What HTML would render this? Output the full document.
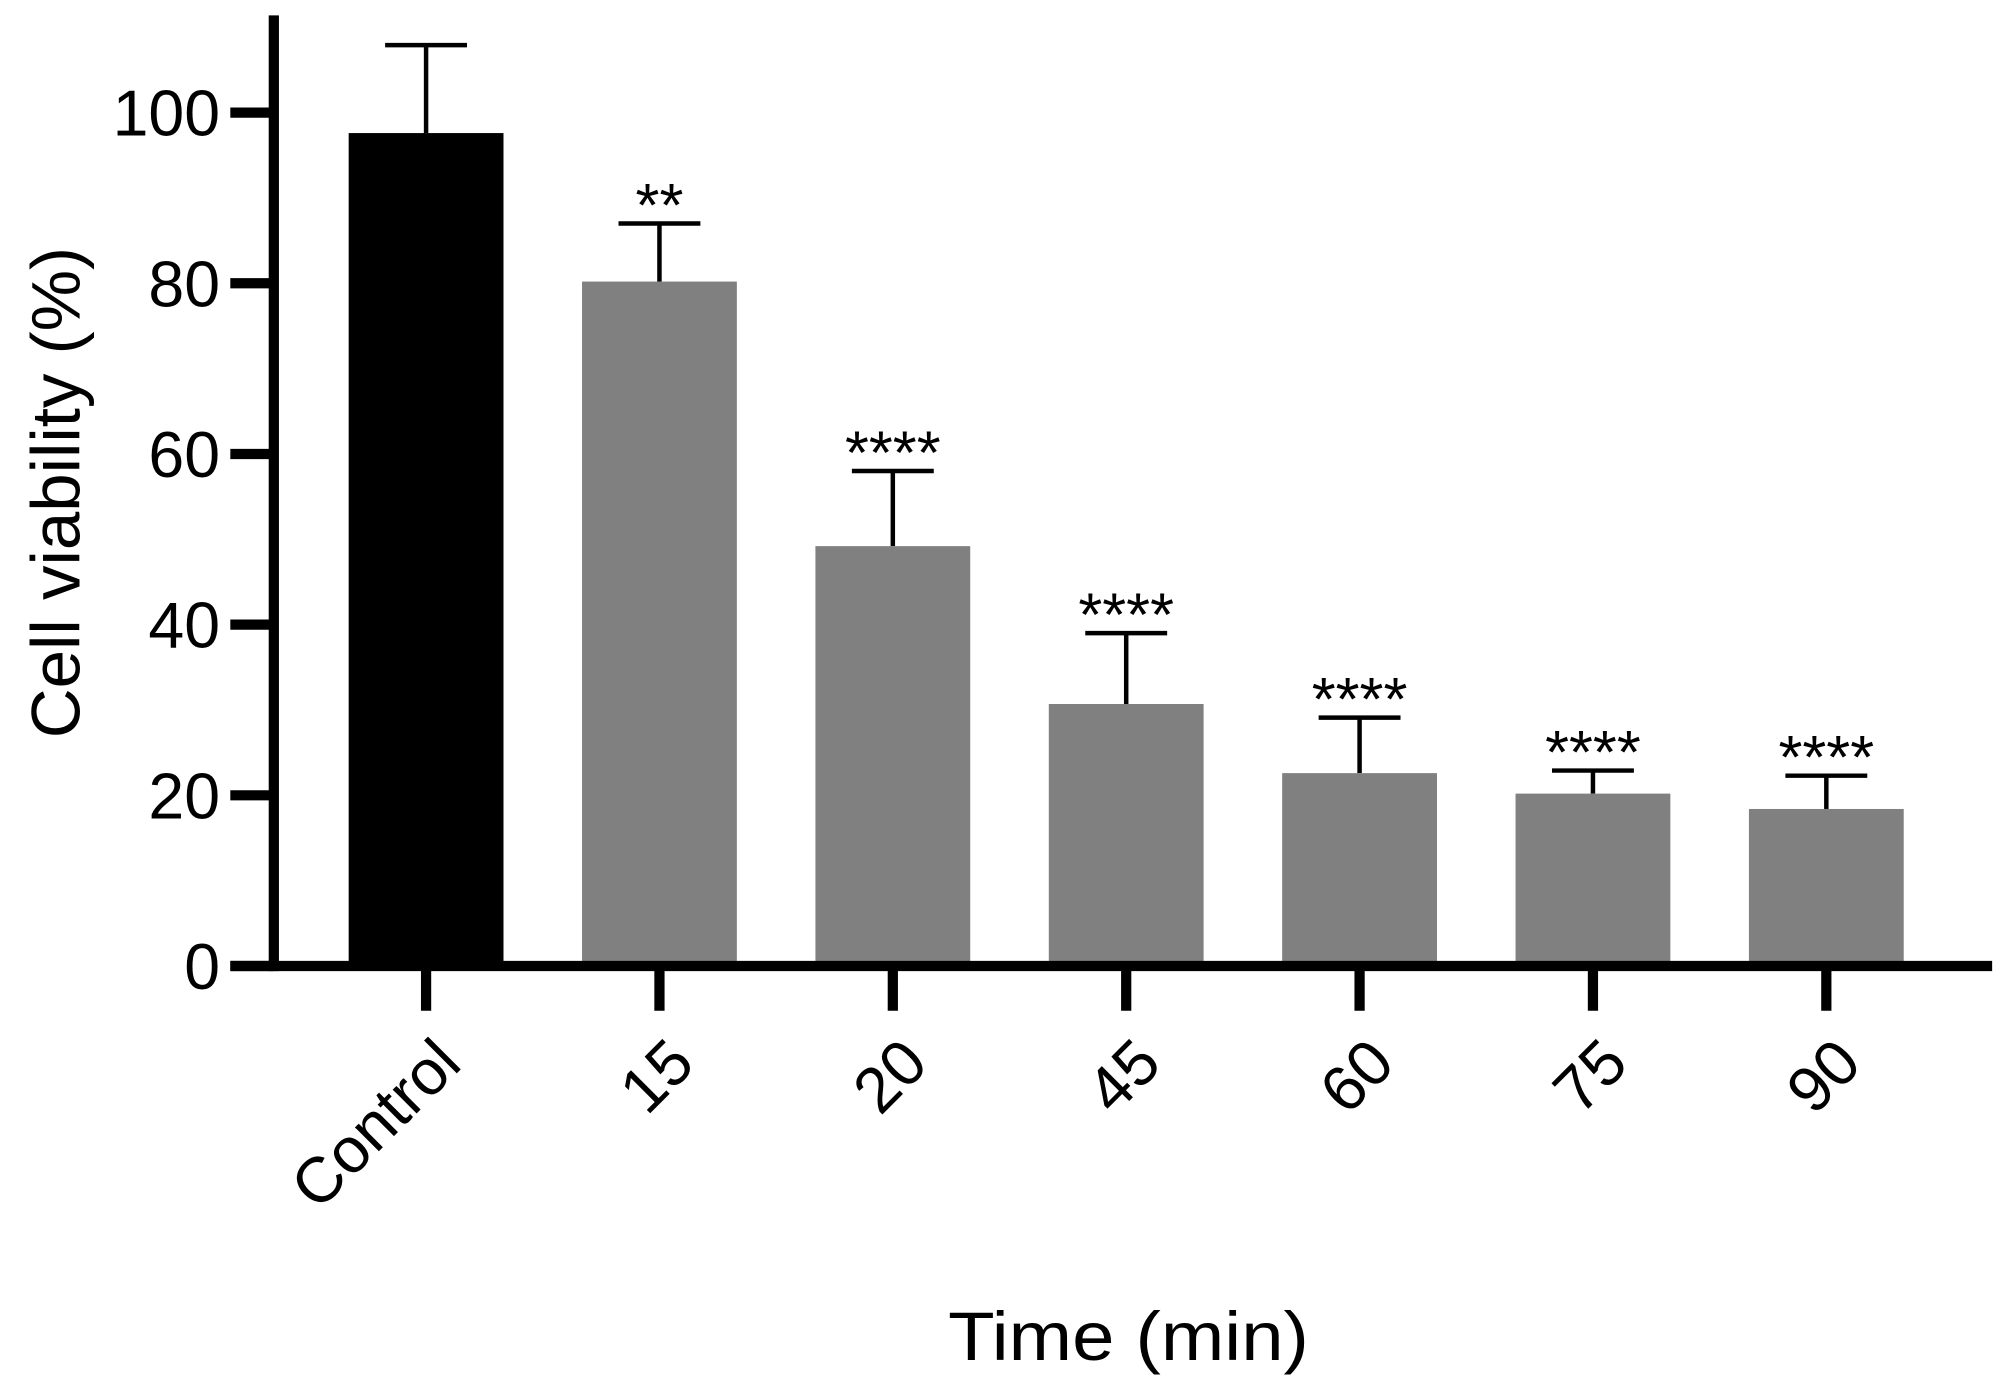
<!DOCTYPE html>
<html><head><meta charset="utf-8"><style>html,body{margin:0;padding:0;background:#fff}svg{display:block}</style></head>
<body>
<svg id="chart" width="1996" height="1384" viewBox="0 0 1560 1081.7" xmlns="http://www.w3.org/2000/svg" font-family="Liberation Sans, Arial, sans-serif">
<g id="g"></g>
</svg>
<script>
const categories = ["Control","15","20","45","60","75","90"];
const means = [97.6, 80.2, 49.2, 30.7, 22.6, 20.2, 18.4];
const errors = [10.3, 6.8, 8.8, 8.3, 6.5, 2.7, 3.9];
const stars = ["", "**", "****", "****", "****", "****", "****"];
const yTicks = [0, 20, 40, 60, 80, 100];

const NS = "http://www.w3.org/2000/svg";
const g = document.getElementById('g');
const y0 = 755, pxPerUnit = 6.67;
function yS(v){ return y0 - v*pxPerUnit; }
function xS(i){ return 333 + i*182.4; }
function mk(tag, attrs, parent){ const e=document.createElementNS(NS,tag); for(const k in attrs) e.setAttribute(k,attrs[k]); (parent||g).appendChild(e); return e; }

categories.forEach((c,i)=>{
  const cx=xS(i), w=121;
  const top=yS(means[i]), etop=yS(means[i]+errors[i]);
  const ln=mk('line',{x1:cx,x2:cx,y1:top,y2:etop,stroke:'#000','stroke-width':3.5});
  
  
  const cap=mk('line',{x1:cx-32,x2:cx+32,y1:etop,y2:etop,stroke:'#000','stroke-width':3.5});
  
  
  const r=mk('rect',{x:cx-w/2,y:top,width:w,height:y0-top,fill:i===0?'#000':'#808080'});
  
  
  if(stars[i]){
    const t=mk('text',{x:cx,y:etop+2,'text-anchor':'middle','font-size':48});
    t.textContent=stars[i];
    
    
  }
  const tk=mk('line',{x1:cx,x2:cx,y1:752,y2:790,stroke:'#000','stroke-width':8});
  
  
  const lx=cx+4, ly=808;
  const lb=mk('text',{x:lx,y:ly,'text-anchor':'end','font-size':50,dy:'0.72em',transform:`rotate(-45 ${lx} ${ly})`});
  lb.textContent=c;
  
  
});
yTicks.forEach(v=>{
  const y=yS(v);
  const tk=mk('line',{x1:180,x2:214,y1:y,y2:y,stroke:'#000','stroke-width':8});
  
  
  const t=mk('text',{x:172,y:y+18,'text-anchor':'end','font-size':51,textLength:String(v).length*28,lengthAdjust:'spacingAndGlyphs'});
  t.textContent=v;
  
  
});
const ya=mk('line',{x1:214,x2:214,y1:12,y2:759,stroke:'#000','stroke-width':8});


const xa=mk('line',{x1:180,x2:1557,y1:755,y2:755,stroke:'#000','stroke-width':8});


const yt=mk('text',{x:62,y:385,'text-anchor':'middle','font-size':54,transform:'rotate(-90 62 385)'});
yt.textContent='Cell viability (%)';


const xt=mk('text',{x:882,y:1063,'text-anchor':'middle','font-size':54,textLength:282,lengthAdjust:'spacingAndGlyphs'});
xt.textContent='Time (min)';


</script>
</body></html>
